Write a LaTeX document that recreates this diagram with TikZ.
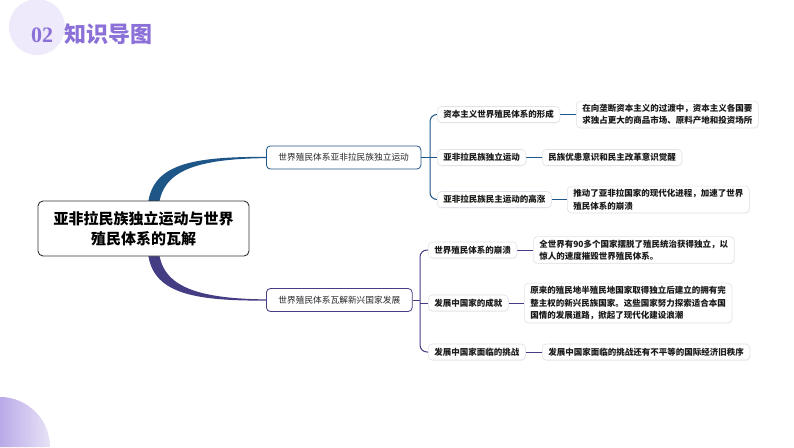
\documentclass[tikz,border=0pt]{standalone}
\usepackage{fontspec}
\setmainfont{Noto Sans CJK SC}
\newfontfamily\numfont{Liberation Serif}
\usetikzlibrary{calc,backgrounds,shadows}
\definecolor{hdr}{HTML}{8B70D8}
\definecolor{hdrbg}{HTML}{EEEAFB}
\definecolor{blueC}{HTML}{1F5688}
\definecolor{purpC}{HTML}{443D84}
\definecolor{boxline}{HTML}{E2E2EA}
\definecolor{txt}{HTML}{1A1A1A}
\begin{document}
\begin{tikzpicture}[x=1pt,y=-1pt,
  rootbox/.style={draw=black!80, line width=0.9pt, fill=white, rounded corners=5pt,
    minimum width=211pt, minimum height=55pt, align=center,
    font=\fontsize{15}{19.5}\selectfont\bfseries, text=black},
  lonebox/.style={draw=#1, line width=0.8pt, fill=white, rounded corners=4pt,
    minimum height=23pt, inner xsep=12pt, anchor=west,
    font=\fontsize{8.7}{11}\selectfont, text=black!85},
  ltwo/.style={draw=boxline, line width=0.6pt, fill=white, rounded corners=4pt,
    drop shadow={opacity=0.10, shadow xshift=0.6pt, shadow yshift=-0.8pt},
    minimum height=16pt, inner xsep=6pt, inner ysep=3pt, anchor=west, align=left,
    font=\fontsize{8.5}{12.5}\selectfont\bfseries, text=txt},
  conn/.style={line width=1pt},
]
\useasboundingbox (0,0) rectangle (794,447);

% root
\node[rootbox] (root) at (143.5,228.5) {亚非拉民族独立运动与世界\\殖民体系的瓦解};

% level 1
\node[lonebox=blueC] (L1) at (266,157.5) {世界殖民体系亚非拉民族独立运动};
\node[lonebox=purpC] (L2) at (266,300) {世界殖民体系瓦解新兴国家发展};

% level 2, group 1
\node[ltwo] (a1) at (437,114.5) {资本主义世界殖民体系的形成};
\node[ltwo] (a2) at (437,157.5) {亚非拉民族独立运动};
\node[ltwo] (a3) at (437,199.5) {亚非拉民族民主运动的高涨};
% level 3, group 1
\node[ltwo] (b1) at (576,114.5) {在向垄断资本主义的过渡中，资本主义各国要\\求独占更大的商品市场、原料产地和投资场所};
\node[ltwo] (b2) at (542,157.5) {民族优患意识和民主改革意识觉醒};
\node[ltwo] (b3) at (567,199.5) {推动了亚非拉国家的现代化进程，加速了世界\\殖民体系的崩溃};

% level 2, group 2
\node[ltwo] (c1) at (428,250) {世界殖民体系的崩溃};
\node[ltwo] (c2) at (428,303) {发展中国家的成就};
\node[ltwo] (c3) at (428,352) {发展中国家面临的挑战};
% level 3, group 2
\node[ltwo] (d1) at (533,250) {全世界有90多个国家摆脱了殖民统治获得独立，以\\惊人的速度摧毁世界殖民体系。};
\node[ltwo] (d2) at (524,303) {原来的殖民地半殖民地国家取得独立后建立的拥有完\\整主权的新兴民族国家。这些国家努力探索适合本国\\国情的发展道路，掀起了现代化建设浪潮};
\node[ltwo] (d3) at (542,352) {发展中国家面临的挑战还有不平等的国际经济旧秩序};

\coordinate (br1) at (430,157.5);
\coordinate (br2) at (420,300);

\begin{scope}[on background layer]
\fill[white] (0,0) rectangle (794,447);
% decorations
\fill[hdrbg] (37,27) circle[radius=28];
\shade[left color=hdr!60, right color=hdr!20] (0,447) -- (0,397) arc[start angle=-90, end angle=0, radius=50] -- cycle;
\node[anchor=base west, inner sep=0, text=hdr, font=\fontsize{22}{24}\selectfont\numfont\bfseries] (num) at (31,42) {02};
\node[anchor=base west, inner sep=0, text=hdr, font=\fontsize{22}{24}\selectfont\bfseries] (ttl) at (64,42) {知识导图};
% tapered main branches
\fill[blueC] ($(root.north)+(4,12)$) .. controls ($(root.north)+(4,-35)$) and ($(L1.west)+(-80,-1)$) .. ($(L1.west)+(0,-0.6)$)
  -- ($(L1.west)+(0,0.6)$) .. controls ($(L1.west)+(-75,1.5)$) and ($(root.north)+(15,-28)$) .. ($(root.north)+(15,12)$) -- cycle;
\fill[purpC] ($(root.south)+(4,-12)$) .. controls ($(root.south)+(4,35)$) and ($(L2.west)+(-80,1)$) .. ($(L2.west)+(0,0.6)$)
  -- ($(L2.west)+(0,-0.6)$) .. controls ($(L2.west)+(-75,-1.5)$) and ($(root.south)+(15,28)$) .. ($(root.south)+(15,-12)$) -- cycle;
% group 1 bracket
\draw[conn, blueC] (L1.east) -- (a2.west);
\draw[conn, blueC, rounded corners=7pt] (a1.west) -| (br1) |- (a3.west);
\draw[conn, blueC] (a1.east) -- (b1.west);
\draw[conn, blueC] (a2.east) -- (b2.west);
\draw[conn, blueC] (a3.east) -- (b3.west);
% group 2 bracket
\draw[conn, purpC] (L2.east) -- (br2);
\draw[conn, purpC, rounded corners=7pt] (c1.west) -| (br2) |- (c3.west);
\draw[conn, purpC] (c2.west) -- (c2.west -| br2);
\draw[conn, purpC] (c1.east) -- (d1.west);
\draw[conn, purpC] (c2.east) -- (d2.west);
\draw[conn, purpC] (c3.east) -- (d3.west);
\end{scope}
\end{tikzpicture}
\end{document}
